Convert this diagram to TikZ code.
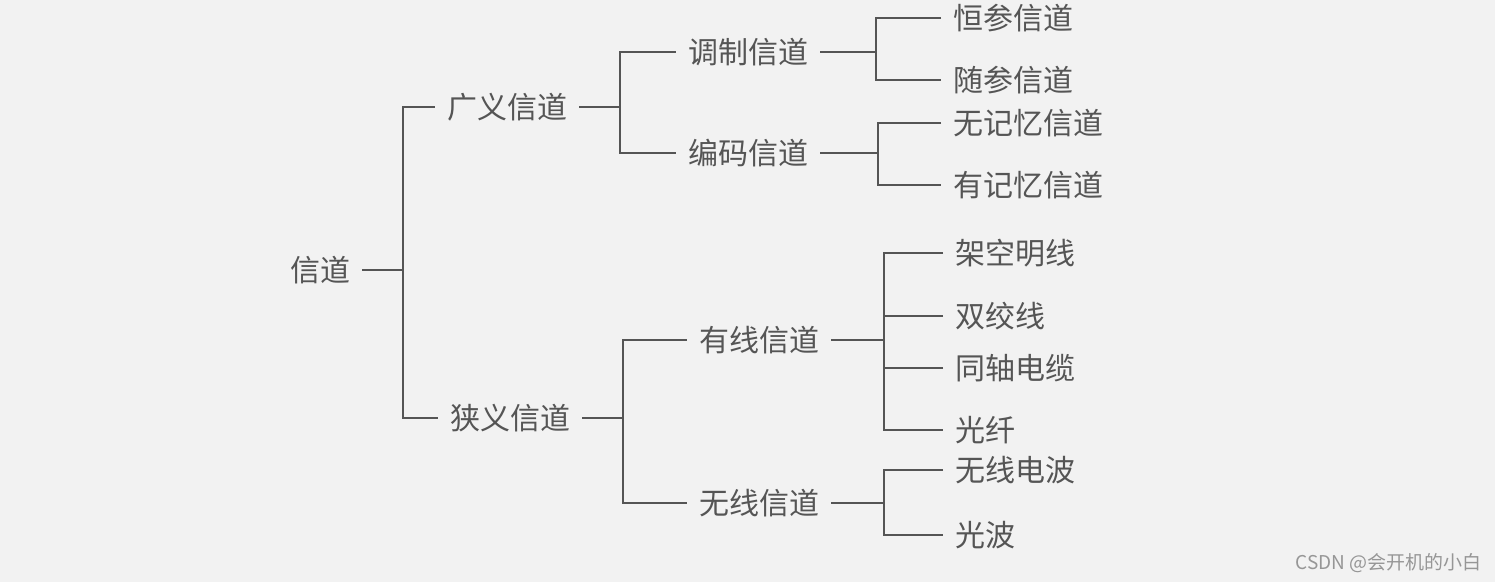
\documentclass[tikz,border=0pt]{standalone}
\usepackage{fontspec}
\setmainfont{Noto Sans CJK SC}
\newfontfamily\cjk{Noto Sans CJK SC}
\definecolor{bgc}{RGB}{242,242,242}
\definecolor{inkc}{RGB}{85,85,85}
\definecolor{wmc}{RGB}{150,150,150}
\begin{document}
\begin{tikzpicture}[x=1pt,y=-1pt,
  lbl/.style={inner xsep=12pt, inner ysep=0pt, text height=22pt, text depth=0pt,
    font=\cjk\fontsize{30pt}{30pt}\selectfont, text=inkc},
  conn/.style={draw=inkc, line width=1.4pt}]
\fill[bgc] (0,0) rectangle (1495,582);
\useasboundingbox (0,0) rectangle (1495,582);
% nodes
\node[lbl] (root) at (320,270) {信道};
\node[lbl] (gy) at (507,107) {广义信道};
\node[lbl] (xy) at (510,418) {狭义信道};
\node[lbl] (tz) at (748,52) {调制信道};
\node[lbl] (bm) at (748,153) {编码信道};
\node[lbl] (yx) at (759,340) {有线信道};
\node[lbl] (wx) at (759,503) {无线信道};
\node[lbl,anchor=west] (hc) at (941,18) {恒参信道};
\node[lbl,anchor=west] (sc) at (941,80) {随参信道};
\node[lbl,anchor=west] (wj) at (941,123) {无记忆信道};
\node[lbl,anchor=west] (yj) at (941,185) {有记忆信道};
\node[lbl,anchor=west] (jk) at (943,253) {架空明线};
\node[lbl,anchor=west] (sj) at (943,316) {双绞线};
\node[lbl,anchor=west] (tzd) at (943,368) {同轴电缆};
\node[lbl,anchor=west] (gx) at (943,430) {光纤};
\node[lbl,anchor=west] (wxd) at (943,470) {无线电波};
\node[lbl,anchor=west] (gb) at (943,535) {光波};
\node[anchor=east, inner sep=0pt, font=\cjk\fontsize{19pt}{19pt}\selectfont, text=wmc] (wm) at (1482,563) {CSDN @会开机的小白};
% junction columns
\coordinate (c0) at (403,0);
\coordinate (c1) at (620,0);
\coordinate (c2) at (623,0);
\coordinate (c3) at (876,0);
\coordinate (c4) at (878,0);
\coordinate (c5) at (884,0);
% connectors
\draw[conn] (root.east) -- (root.east -| c0);
\draw[conn] (gy.west) -- (gy.west -| c0) -- (xy.west -| c0) -- (xy.west);
\draw[conn] (gy.east) -- (gy.east -| c1);
\draw[conn] (tz.west) -- (tz.west -| c1) -- (bm.west -| c1) -- (bm.west);
\draw[conn] (xy.east) -- (xy.east -| c2);
\draw[conn] (yx.west) -- (yx.west -| c2) -- (wx.west -| c2) -- (wx.west);
\draw[conn] (tz.east) -- (tz.east -| c3);
\draw[conn] (hc.west) -- (hc.west -| c3) -- (sc.west -| c3) -- (sc.west);
\draw[conn] (bm.east) -- (bm.east -| c4);
\draw[conn] (wj.west) -- (wj.west -| c4) -- (yj.west -| c4) -- (yj.west);
\draw[conn] (yx.east) -- (yx.east -| c5);
\draw[conn] (jk.west) -- (jk.west -| c5) -- (gx.west -| c5) -- (gx.west);
\draw[conn] (sj.west) -- (sj.west -| c5);
\draw[conn] (tzd.west) -- (tzd.west -| c5);
\draw[conn] (wx.east) -- (wx.east -| c5);
\draw[conn] (wxd.west) -- (wxd.west -| c5) -- (gb.west -| c5) -- (gb.west);
\end{tikzpicture}
\end{document}
